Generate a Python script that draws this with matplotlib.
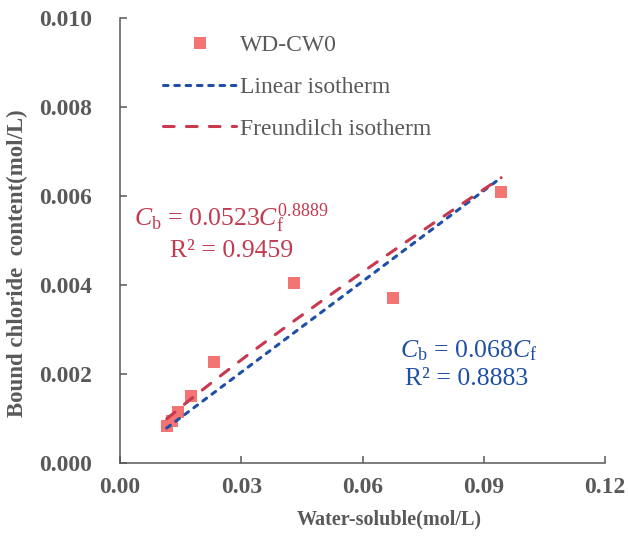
import numpy as np
import matplotlib
matplotlib.use("Agg")
from matplotlib import pyplot as plt
from matplotlib.lines import Line2D

# fonts: Times-like everywhere, also in the math parts
plt.rcParams['font.family'] = ['Liberation Serif', 'DejaVu Serif']
plt.rcParams['mathtext.fontset'] = 'custom'
plt.rcParams['mathtext.rm'] = 'Liberation Serif'
plt.rcParams['mathtext.it'] = 'Liberation Serif:italic'
plt.rcParams['mathtext.bf'] = 'Liberation Serif:bold'

# data
cf = [0.01155, 0.0128, 0.0144, 0.0176, 0.0233, 0.0430, 0.0675, 0.0943]   # water-soluble
cb = [0.00084, 0.00095, 0.00115, 0.00151, 0.00227, 0.00404, 0.00371, 0.00610]  # bound

series_name = 'WD-CW0'
lin_k = 0.068
lin_r2 = 0.8883
fr_k = 0.0523
fr_n = 0.8889
fr_r2 = 0.9459

xticks = [0.00, 0.03, 0.06, 0.09, 0.12]
yticks = [0.000, 0.002, 0.004, 0.006, 0.008, 0.010]

# colours
gray = '#595959'
c_mark = '#F47373'
c_blue = '#1F50A6'
c_red = '#C8384F'
c_red_txt = '#C23A50'

fig = plt.figure(figsize=(6.28, 5.39), dpi=100)
ax = fig.add_axes([0.1911, 0.141, 0.7723, 0.8256])

# trendlines over data range
xs = np.linspace(min(cf), max(cf), 200)
ax.scatter(cf, cb, marker='s', s=8.6**2, color=c_mark, linewidths=0, zorder=2)
ax.plot(xs, lin_k * xs, color=c_blue, lw=2.2, linestyle=(0, (1.5, 2.2)),
        dash_capstyle='round', zorder=3)
ax.plot(xs, fr_k * xs**fr_n, color=c_red, lw=2.2, linestyle=(0, (3.5, 4.0)),
        dash_capstyle='round', zorder=4)

ax.set_xlim(0, 0.12)
ax.set_ylim(0, 0.010)
ax.set_xticks(xticks)
ax.set_yticks(yticks)
ax.set_xticklabels(['%.2f' % v for v in xticks])
ax.set_yticklabels(['%.3f' % v for v in yticks])

for s in ['top', 'right']:
    ax.spines[s].set_visible(False)
for s in ['left', 'bottom']:
    ax.spines[s].set_color(gray)
    ax.spines[s].set_linewidth(1.1)

ax.tick_params(axis='both', direction='in', length=5, width=1.1, color=gray,
               labelcolor=gray, labelsize=17)
ax.tick_params(axis='x', pad=10)
ax.tick_params(axis='y', pad=20)
for lab in ax.get_xticklabels() + ax.get_yticklabels():
    lab.set_fontweight('bold')

ax.set_xlabel('Water-soluble(mol/L)', fontsize=14.5, fontweight='bold', color=gray)
ax.set_ylabel('Bound chloride  content(mol/L)', fontsize=16.5, fontweight='bold', color=gray)
ax.xaxis.set_label_coords(0.555, -0.105)
ax.yaxis.set_label_coords(-0.19, 0.449)

# legend
handles = [
    Line2D([], [], marker='s', linestyle='none', markersize=8.6, color=c_mark, markeredgewidth=0),
    Line2D([], [], color=c_blue, lw=2.2, linestyle=(0, (1.5, 2.2)), dash_capstyle='round'),
    Line2D([], [], color=c_red, lw=2.2, linestyle=(0, (3.5, 4.0)), dash_capstyle='round'),
]
labels = [series_name, 'Linear isotherm', 'Freundilch isotherm']
leg = ax.legend(handles, labels, loc='upper left', bbox_to_anchor=(0.045, 1.01),
                frameon=False, fontsize=17, handlelength=3.1, handletextpad=0.15,
                labelspacing=0.85)
for t in leg.get_texts():
    t.set_color(gray)

# equations
ax.text(0.0035, 0.00532, r'$C_{\mathrm{b}}$ = %.4f$C_{\mathrm{f}}^{%.4f}$' % (fr_k, fr_n),
        color=c_red_txt, fontsize=18.5, ha='left', va='baseline')
ax.text(0.01237, 0.00463, 'R² = %.4f' % fr_r2,
        color=c_red_txt, fontsize=18.5, ha='left', va='baseline')
ax.text(0.0693, 0.00238, r'$C_{\mathrm{b}}$ = %.3f$C_{\mathrm{f}}$' % lin_k,
        color=c_blue, fontsize=18.5, ha='left', va='baseline')
ax.text(0.0705, 0.00175, 'R² = %.4f' % lin_r2,
        color=c_blue, fontsize=18.5, ha='left', va='baseline')

fig.savefig('out.png', dpi=100)
